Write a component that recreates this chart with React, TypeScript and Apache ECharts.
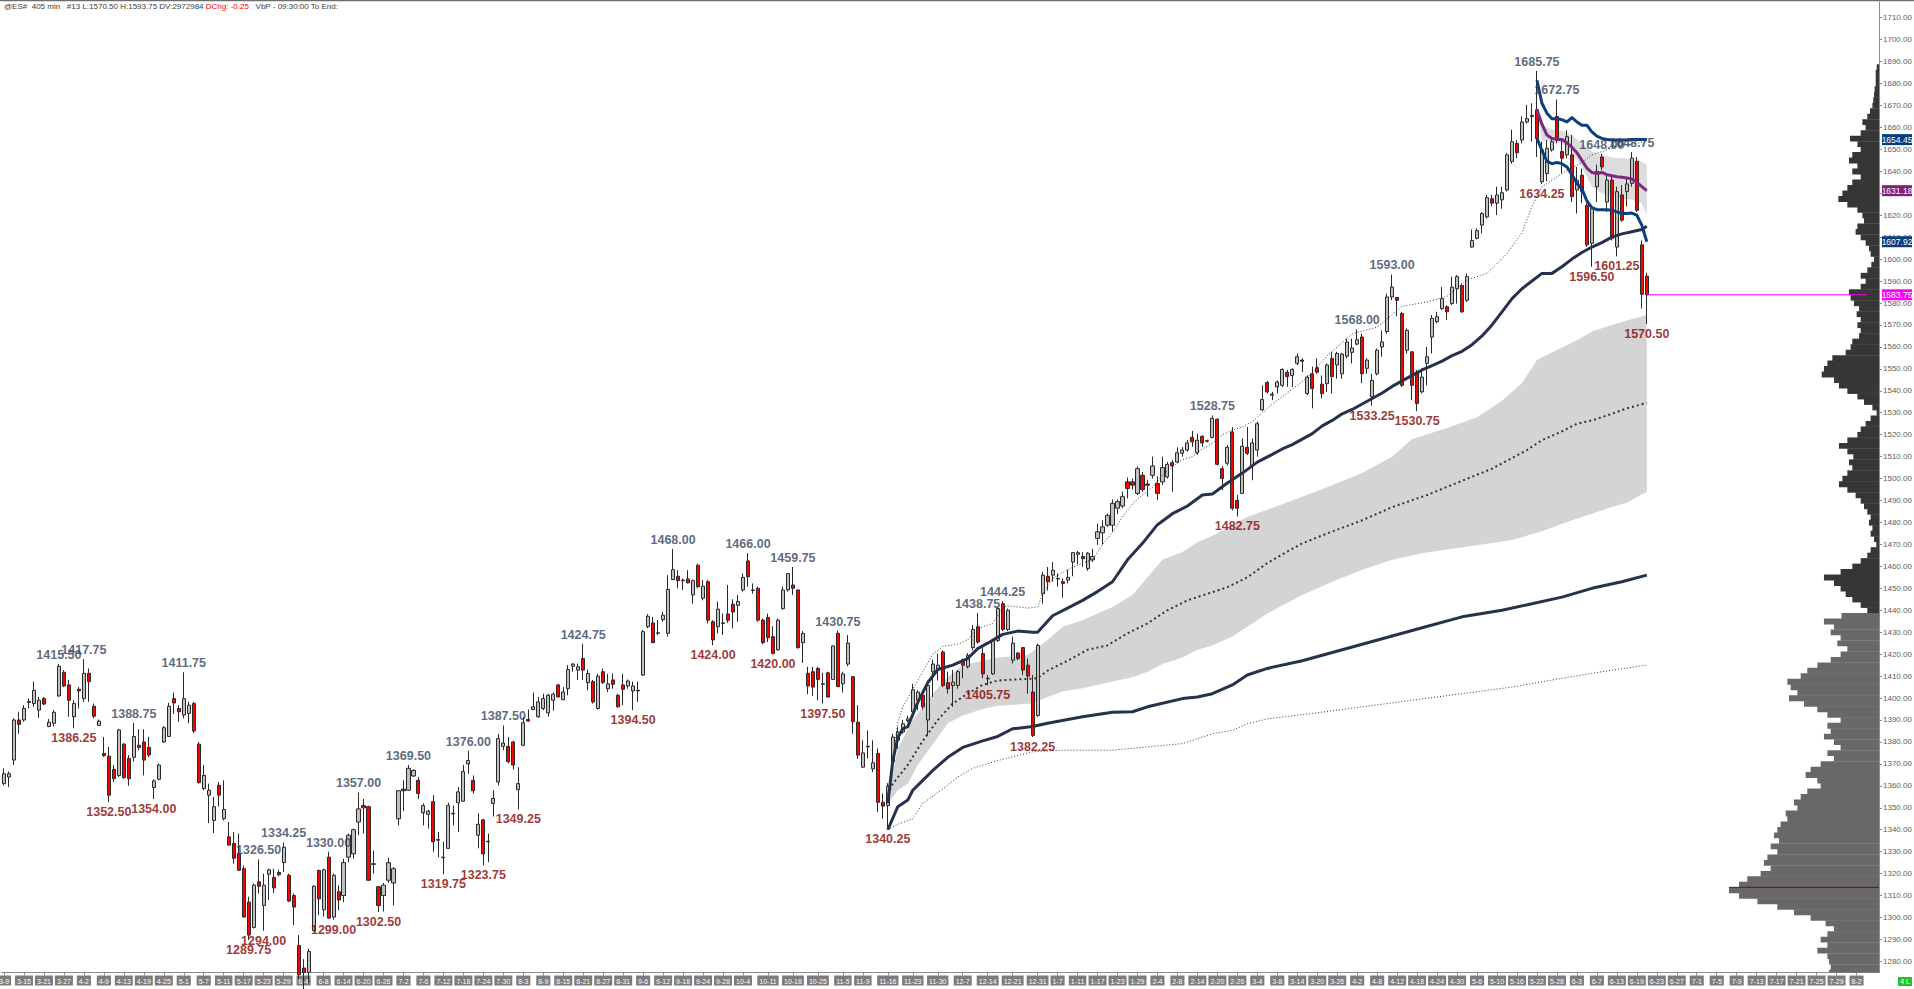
import React, { useEffect, useRef } from "react";
import * as echarts from "echarts";

// ---------------- calendar / categories ----------------
const firstBarDate = "2012-03-09";
const lastBarDate = "2013-06-21";
const axisEndDate = "2013-08-06";
const exchangeClosedDays = ["2012-04-06", "2012-10-29", "2012-10-30", "2012-12-25", "2013-01-01", "2013-03-29"];

const dateTicks = [
  "2012-03-09", "2012-03-15", "2012-03-21", "2012-03-27", "2012-04-02", "2012-04-09", "2012-04-13", "2012-04-19", "2012-04-25",
  "2012-05-01", "2012-05-07", "2012-05-11", "2012-05-17", "2012-05-23", "2012-05-29", "2012-06-04", "2012-06-08", "2012-06-14",
  "2012-06-20", "2012-06-26", "2012-07-02", "2012-07-06", "2012-07-12", "2012-07-18", "2012-07-24", "2012-07-30", "2012-08-03",
  "2012-08-09", "2012-08-15", "2012-08-21", "2012-08-27", "2012-08-31", "2012-09-06", "2012-09-12", "2012-09-18", "2012-09-24",
  "2012-09-28", "2012-10-04", "2012-10-11", "2012-10-18", "2012-10-25", "2012-11-05", "2012-11-09", "2012-11-16", "2012-11-23",
  "2012-11-30", "2012-12-07", "2012-12-14", "2012-12-21", "2012-12-31", "2013-01-07", "2013-01-11", "2013-01-17", "2013-01-23",
  "2013-01-29", "2013-02-04", "2013-02-08", "2013-02-14", "2013-02-20", "2013-02-26", "2013-03-04", "2013-03-08", "2013-03-14",
  "2013-03-20", "2013-03-26", "2013-04-02", "2013-04-08", "2013-04-12", "2013-04-18", "2013-04-24", "2013-04-30", "2013-05-06",
  "2013-05-10", "2013-05-16", "2013-05-22", "2013-05-28", "2013-06-03", "2013-06-07", "2013-06-13", "2013-06-19", "2013-06-23",
  "2013-06-27", "2013-07-01", "2013-07-05", "2013-07-09", "2013-07-13", "2013-07-17", "2013-07-21", "2013-07-25", "2013-07-29",
  "2013-08-02",
];

const priceTicks = [
  1280, 1290, 1300, 1310, 1320, 1330, 1340, 1350, 1360, 1370, 1380, 1390, 1400, 1410, 1420, 1430, 1440, 1450, 1460, 1470,
  1480, 1490, 1500, 1510, 1520, 1530, 1540, 1550, 1560, 1570, 1580, 1590, 1600, 1610, 1620, 1630, 1640, 1650, 1660, 1670,
  1680, 1690, 1700, 1710,
];

function buildCategories(): string[] {
  const out: string[] = [];
  const d = new Date(firstBarDate + "T00:00:00Z");
  const lastBar = new Date(lastBarDate + "T00:00:00Z").getTime();
  const end = new Date(axisEndDate + "T00:00:00Z").getTime();
  while (d.getTime() <= end) {
    const iso = d.toISOString().slice(0, 10);
    const wd = d.getUTCDay();
    if (d.getTime() <= lastBar) {
      if (wd !== 0 && wd !== 6 && !exchangeClosedDays.includes(iso)) out.push(iso);
    } else {
      out.push(iso);
    }
    d.setUTCDate(d.getUTCDate() + 1);
  }
  return out;
}

// ---------------- daily bars: [open, high, low, close] ----------------
const ohlc: [number, number, number, number][] = [
  // 0
  [1361, 1368, 1360.25, 1365.5], [1364, 1366.5, 1359.5, 1365.5], [1371.75, 1390.75, 1369.5, 1390], [1390, 1393.75, 1383.75, 1388],
  [1390, 1396.75, 1389.25, 1395.25], [1398, 1399.75, 1395.25, 1398.5], [1397.5, 1407.5, 1396, 1403.5], [1394.5, 1400.5, 1391, 1399],
  [1399.75, 1400.5, 1396.75, 1397.25], [1387, 1390.5, 1386.75, 1389],
  // 10
  [1388.5, 1394.5, 1387, 1393.5], [1401, 1415.5, 1400.5, 1414.5], [1411.75, 1412.75, 1405, 1405.5], [1406, 1408.25, 1391.5, 1399],
  [1391.5, 1399, 1386.25, 1397.5], [1404, 1405, 1395.25, 1403.25], [1399.75, 1417.75, 1398.25, 1411.25], [1411.25, 1413.5, 1398.25, 1407.5],
  [1396.25, 1397.5, 1390.75, 1391.75], [1387.5, 1390.25, 1387.25, 1389.5],
  // 20
  [1374.75, 1382.25, 1373.25, 1373.75], [1373.5, 1377.75, 1352.5, 1355.75], [1367.5, 1369.5, 1361.75, 1363.25], [1364.75, 1386, 1364, 1385.5],
  [1379, 1379.5, 1363.25, 1363.75], [1372.5, 1374, 1360, 1363.25], [1373, 1388.75, 1371, 1382.5], [1378.5, 1385.75, 1376.25, 1377.5],
  [1380, 1385.75, 1364.75, 1371.75], [1377.5, 1382.25, 1373, 1374],
  // 30
  [1359.25, 1363, 1354, 1362.25], [1363, 1370.25, 1362.5, 1369.5], [1380, 1387.25, 1379.5, 1386.5], [1382.5, 1397.75, 1382.25, 1396.25],
  [1399.75, 1402.5, 1392.75, 1397.75], [1395.25, 1396.75, 1389.25, 1393.75], [1392.25, 1411.75, 1390.75, 1399.75], [1393, 1398.25, 1388.5, 1396.75],
  [1397.5, 1398.25, 1384, 1385], [1379, 1380, 1361, 1361.5],
  // 40
  [1358.75, 1369.5, 1358, 1364.75], [1355.75, 1361, 1343, 1358], [1344.25, 1355, 1338.5, 1350.5], [1360.25, 1361.75, 1350.5, 1355.75],
  [1345, 1362.5, 1344.25, 1349.25], [1336.75, 1343.5, 1332.75, 1333], [1333.75, 1339, 1324.5, 1327], [1329, 1338.25, 1321.25, 1321.5],
  [1322.25, 1323.75, 1300, 1300.25], [1307, 1309.5, 1289.75, 1292],
  // 50
  [1295.5, 1315.5, 1295, 1314.75], [1316.25, 1326.5, 1311, 1314.25], [1305.5, 1320, 1294, 1314.75], [1319.75, 1322.25, 1308, 1321.75],
  [1318.25, 1322.25, 1311.25, 1313.5], [1320.5, 1321.75, 1318.75, 1319.5], [1325, 1334.25, 1320.75, 1332], [1319.25, 1320, 1307, 1307.5],
  [1310, 1311, 1296.5, 1304.75], [1287.25, 1292, 1272, 1274],
  // 60
  [1277, 1281, 1266, 1275], [1275, 1285.75, 1270, 1284.5], [1294, 1314.75, 1293.75, 1314.25], [1321.5, 1321.75, 1301, 1308.5],
  [1303.5, 1322.25, 1300.5, 1321.75], [1327.5, 1330, 1299.5, 1299.75], [1300.25, 1320, 1299, 1319.25], [1311.75, 1314.75, 1303.25, 1308],
  [1310, 1326.75, 1307, 1325], [1327.5, 1338.25, 1325.25, 1337.5],
  // 70
  [1329, 1340.5, 1326.75, 1340], [1343.5, 1357, 1337.5, 1349.5], [1351, 1354, 1338.25, 1350], [1350.5, 1351, 1316.75, 1317],
  [1324.25, 1330.5, 1320, 1324.5], [1314, 1314.25, 1302.5, 1305.5], [1310, 1315.75, 1302.75, 1314.75], [1317, 1327.25, 1315.75, 1325],
  [1315.75, 1323, 1305.5, 1322.25], [1345, 1358, 1342, 1357.75],
  // 80
  [1358.5, 1362.5, 1348.5, 1357.75], [1358, 1369.5, 1357.75, 1368], [1364.5, 1367.5, 1364, 1367], [1362.5, 1364, 1354, 1356.5],
  [1347.75, 1352, 1342, 1351], [1347, 1349, 1340.5, 1348.5], [1352.75, 1355.75, 1330, 1334.5], [1335.5, 1339, 1327.5, 1335.25],
  [1327.25, 1334.5, 1319.75, 1327.5], [1331.5, 1352.25, 1331.25, 1351],
  // 90
  [1347.5, 1351, 1342, 1347.25], [1352.25, 1359.5, 1339, 1357.25], [1353, 1369.5, 1352.75, 1366.5], [1370, 1376, 1365.5, 1371.5],
  [1362.5, 1364.75, 1356.5, 1357.75], [1337.5, 1347.5, 1331.5, 1342.5], [1344.5, 1345, 1323.75, 1329], [1334.75, 1338.25, 1325.25, 1334.5],
  [1352, 1358, 1346, 1354.25], [1361.75, 1383.75, 1360.25, 1381.5],
  // 100
  [1378, 1387.5, 1376.25, 1379.5], [1378, 1382.25, 1370.25, 1371], [1380, 1380.5, 1367.5, 1369.5], [1358.25, 1368.5, 1349.25, 1361],
  [1378.5, 1391.5, 1378, 1388.75], [1390.25, 1394.75, 1389.25, 1389.5], [1394.75, 1402.5, 1394.5, 1396], [1391.5, 1400.5, 1391, 1398.25],
  [1395.25, 1402, 1394.5, 1399.75], [1393.25, 1402, 1391.5, 1401.25],
  // 110
  [1399, 1402.5, 1394.25, 1401.75], [1406, 1406.5, 1400.25, 1400.5], [1399.25, 1405, 1399, 1402.75], [1404.25, 1415, 1401.25, 1413],
  [1414.5, 1416, 1412, 1415.5], [1412.75, 1415.75, 1408.25, 1414.25], [1418, 1424.75, 1408.25, 1412.75], [1407, 1413, 1403.5, 1411.25],
  [1407.5, 1408.25, 1397.5, 1398.25], [1395.25, 1411, 1394.75, 1410],
  // 120
  [1412, 1413.5, 1406.5, 1407], [1404.25, 1411, 1402.75, 1406.5], [1408.25, 1411.25, 1404.25, 1406.25], [1401.25, 1402, 1395.75, 1396],
  [1406, 1411, 1396.75, 1404], [1405.5, 1408.5, 1404.25, 1407.75], [1403.25, 1407.5, 1394.5, 1405.5], [1403.5, 1407.5, 1398.25, 1403.25],
  [1410.5, 1431, 1410, 1430.25], [1432.5, 1438.25, 1431.75, 1437.25],
  // 130
  [1434.25, 1437, 1425, 1425.25], [1429.5, 1435.5, 1428.75, 1429.75], [1435.75, 1439.25, 1434.75, 1437.75], [1429.5, 1456, 1428, 1449.5],
  [1454, 1468, 1453.75, 1458.5], [1455.5, 1458.25, 1450, 1453.5], [1453.5, 1454.5, 1449.25, 1453.75], [1454.25, 1458.25, 1452.25, 1452.5],
  [1447, 1454, 1443, 1453.5], [1460.5, 1461.25, 1450, 1450.75],
  // 140
  [1445.5, 1453.75, 1444.5, 1451], [1453, 1453.75, 1434, 1435.5], [1434.75, 1435.5, 1424, 1426.5], [1432.5, 1444, 1429.5, 1440.5],
  [1434.25, 1438.5, 1428.75, 1434], [1438.25, 1451.5, 1434.25, 1435.5], [1442.75, 1445, 1431.75, 1439.25], [1442.25, 1447, 1434.75, 1444],
  [1449.25, 1456.75, 1448.5, 1455], [1462.5, 1466, 1450.75, 1455.25],
  // 150
  [1449.25, 1452.25, 1447.5, 1449], [1450, 1450.75, 1434.75, 1435.5], [1435.5, 1436.25, 1424.5, 1425.25], [1436.75, 1438.5, 1425.5, 1427.5],
  [1428, 1432.75, 1420, 1420.25], [1422, 1436.25, 1421.5, 1435.5], [1440.75, 1450.75, 1440.25, 1449.25], [1449.25, 1457, 1448.5, 1456.75],
  [1451.5, 1459.75, 1447, 1450], [1449.25, 1449.5, 1422.5, 1423],
  // 160
  [1425.25, 1430.5, 1416, 1429.5], [1411.25, 1414.25, 1401.75, 1405.5], [1412, 1414.25, 1401, 1405], [1413.5, 1414.25, 1399, 1408.5],
  [1406.25, 1411.5, 1397.5, 1406.5], [1411.5, 1412, 1400.25, 1400.5], [1408.5, 1424, 1408.25, 1423.75], [1429.5, 1430.75, 1405, 1405.25],
  [1406.5, 1412, 1402.5, 1411], [1415.5, 1428.75, 1414.5, 1425],
  // 170
  [1409.75, 1410, 1383.75, 1389.25], [1389, 1396.75, 1372.25, 1374], [1368.5, 1380.75, 1368.25, 1375], [1378, 1385.25, 1372.5, 1377.75],
  [1367.75, 1380.75, 1366.25, 1370.5], [1374.75, 1377, 1348, 1352.5], [1352.5, 1356.5, 1345, 1350.75], [1351, 1361.25, 1340.25, 1359.75],
  [1371, 1383.75, 1370, 1382.25], [1380.75, 1386.75, 1377, 1384.5],
  // 180
  [1384.5, 1390, 1383.75, 1388.25], [1389.75, 1392, 1389, 1390.5], [1393.75, 1406.5, 1393.25, 1403.75], [1399, 1403.5, 1394.5, 1402.75],
  [1401.25, 1402, 1394.75, 1396], [1390, 1408, 1383, 1405.75], [1412, 1417.5, 1400.5, 1415.5], [1413.5, 1420.25, 1408, 1415],
  [1421, 1421.75, 1405, 1405.75], [1407, 1412, 1402, 1404.25],
  // 190
  [1405.75, 1412.75, 1396, 1407.25], [1405.75, 1412.75, 1404.25, 1412], [1417.5, 1418, 1409, 1415], [1414.25, 1420.5, 1413.5, 1419.5],
  [1423, 1433.25, 1421.75, 1431.25], [1432.5, 1438.75, 1424.75, 1425.5], [1420.25, 1424, 1409, 1411], [1409, 1410.5, 1405.75, 1408.75],
  [1411, 1427, 1410.5, 1426.5], [1426.25, 1441.5, 1425.5, 1440.75],
  // 200
  [1443, 1444.25, 1430.5, 1431.25], [1431.25, 1440.75, 1430.5, 1440], [1417.25, 1428, 1415.75, 1425], [1420.5, 1421, 1417.25, 1418],
  [1423, 1423.25, 1410.5, 1412.75], [1415, 1418, 1402, 1410], [1402.75, 1410.5, 1382.25, 1383], [1392, 1424.75, 1391.5, 1424],
  [1447.5, 1457.5, 1443, 1456], [1455.5, 1459.75, 1449, 1453],
  // 210
  [1456, 1462, 1453, 1458.25], [1454.25, 1456.75, 1450.75, 1454.5], [1453, 1454.5, 1445.75, 1452.25], [1453.75, 1458.5, 1452.25, 1455],
  [1462, 1466.5, 1455.5, 1466.25], [1465.5, 1467, 1461, 1466.25], [1464.5, 1466.5, 1459.75, 1463.5], [1459, 1466.5, 1458, 1466],
  [1463, 1468, 1462, 1464.5], [1472.75, 1479.5, 1469.75, 1475.75],
  // 220
  [1475.25, 1481, 1470, 1478], [1478.75, 1484, 1478, 1483.25], [1478.75, 1490.5, 1475.75, 1488.75], [1486.5, 1490.5, 1483.75, 1489.5],
  [1487.5, 1494, 1486.5, 1491.75], [1498.5, 1500.5, 1491, 1495.5], [1498.5, 1500, 1495, 1497], [1493.25, 1505.5, 1492.5, 1504.5],
  [1501.5, 1503, 1494, 1495], [1497.5, 1499.25, 1491.75, 1497],
  // 230
  [1501.5, 1510, 1500, 1505.75], [1497.75, 1501, 1490.25, 1493.25], [1498.5, 1510, 1497, 1505], [1500.75, 1507.5, 1500, 1506.5],
  [1507.25, 1508.5, 1494, 1505.75], [1507.5, 1514.25, 1507, 1511.75], [1511.5, 1514.5, 1510, 1513], [1513, 1517.5, 1512.25, 1516.25],
  [1518.75, 1521.75, 1514.5, 1516.75], [1511.75, 1520.5, 1510.75, 1517.5],
  // 240
  [1519.25, 1519.75, 1514.5, 1516.25], [1517.25, 1517.75, 1516.5, 1517], [1518.75, 1528.75, 1518.25, 1527.5], [1527, 1527.5, 1506, 1506.5],
  [1504.5, 1505.75, 1494.75, 1500], [1507, 1515.25, 1506, 1514.25], [1521.25, 1523.5, 1485.5, 1486.5], [1490, 1492.5, 1482.75, 1486.5],
  [1493.25, 1518.25, 1493, 1514.75], [1514.25, 1523.5, 1510.75, 1511.5],
  // 250
  [1506, 1518.25, 1499.25, 1516.25], [1513, 1526, 1510, 1525], [1531.25, 1542.5, 1531, 1536], [1543.75, 1544.5, 1538.75, 1539.5],
  [1538, 1539.5, 1535.75, 1538.5], [1541.75, 1544.75, 1538.75, 1544], [1542.5, 1550.25, 1541.75, 1549.75], [1548.5, 1549.5, 1541.75, 1546.5],
  [1547, 1550.25, 1541.75, 1549.75], [1552.5, 1557, 1551.75, 1555.5],
  // 260
  [1554, 1554.75, 1548.5, 1553.5], [1538.75, 1547, 1538, 1546.25], [1547.75, 1551, 1532, 1541], [1550.5, 1554.75, 1547.75, 1548.5],
  [1543, 1547, 1536.5, 1538.75], [1543.25, 1552.5, 1539.5, 1551.75], [1554.75, 1557.75, 1538.75, 1546.5], [1551.75, 1557.75, 1545.5, 1557],
  [1547.75, 1557.25, 1545.5, 1556.75], [1555.75, 1563.75, 1554.75, 1562.25],
  // 270
  [1557.5, 1563.75, 1552.5, 1559.5], [1561.25, 1568, 1560.75, 1563.25], [1564.5, 1566, 1543.5, 1547.75], [1550.25, 1554.75, 1547.75, 1554],
  [1537.25, 1547.75, 1533.25, 1544.75], [1547.75, 1559.25, 1547, 1558.5], [1560, 1567.5, 1555.5, 1562.25], [1567, 1584.25, 1566, 1582.75],
  [1582.75, 1593, 1581.25, 1587.25], [1582.5, 1582.75, 1574, 1581.25],
  // 280
  [1575.25, 1576, 1541.75, 1542.5], [1558.5, 1568.5, 1557, 1567.5], [1557.75, 1558, 1535.75, 1542.5], [1548.5, 1549.5, 1530.75, 1534.25],
  [1539.5, 1550.25, 1538.75, 1546.25], [1552.5, 1560, 1542.5, 1555.5], [1564.5, 1574.5, 1557, 1573], [1571.5, 1576, 1570.75, 1573.75],
  [1577.5, 1587.25, 1576.75, 1582], [1578.25, 1579, 1572.25, 1576],
  // 290
  [1579.75, 1592, 1579, 1587.25], [1586.5, 1592.75, 1579.75, 1592], [1588, 1589, 1575.5, 1576], [1581.25, 1593.5, 1580.5, 1592],
  [1605.5, 1613.5, 1605.25, 1608.5], [1609.5, 1614, 1609, 1613], [1615.5, 1621.5, 1611.75, 1620.75], [1619.25, 1629.25, 1618.5, 1628],
  [1627.5, 1629.25, 1624, 1625.5], [1625.5, 1633, 1620, 1629.25],
  // 300
  [1627, 1633, 1623, 1630.25], [1631.5, 1648.25, 1630.75, 1647.5], [1644.5, 1659, 1643.5, 1653.5], [1652.75, 1654.25, 1646, 1648.5],
  [1654.25, 1665, 1652.75, 1662.5], [1662.5, 1670.25, 1661.75, 1664], [1665, 1671, 1653.5, 1665.5], [1668, 1685.75, 1646.5, 1655],
  [1635.25, 1653.5, 1634.25, 1649.75], [1639, 1654.25, 1635.5, 1650.5],
  // 310
  [1649.75, 1655, 1649, 1653.5], [1665, 1672.75, 1652.75, 1655], [1649, 1654.25, 1639, 1646], [1647.5, 1658.75, 1646, 1655.75],
  [1647.5, 1656.5, 1626, 1628.5], [1631.5, 1642, 1620.75, 1636], [1638.25, 1641.25, 1625.5, 1630.75], [1624.5, 1625.5, 1605.5, 1606.5],
  [1607.25, 1624, 1596.5, 1623], [1633, 1643, 1626, 1640],
  // 320
  [1646.5, 1648, 1640.5, 1642], [1626, 1638.25, 1621.5, 1636], [1636, 1637.5, 1608.5, 1609.5], [1605.5, 1633, 1601.25, 1630.75],
  [1629.25, 1633.75, 1617, 1617.75], [1630.75, 1637.5, 1624, 1634.25], [1634.5, 1648.75, 1633, 1646], [1644.5, 1646.5, 1621.5, 1622.25],
  [1606.5, 1608.5, 1577.5, 1584], [1592.25, 1593.75, 1570.5, 1583.75],
];

// swing labels [bar index, price]
const swingHighs: [number, number][] = [
  [11, 1415.5], [16, 1417.75], [26, 1388.75], [36, 1411.75], [51, 1326.5], [56, 1334.25], [65, 1330], [71, 1357], [81, 1369.5],
  [93, 1376], [100, 1387.5], [116, 1424.75], [134, 1468], [149, 1466], [158, 1459.75], [167, 1430.75], [195, 1438.75],
  [200, 1444.25], [242, 1528.75], [271, 1568], [278, 1593], [307, 1685.75], [311, 1672.75], [320, 1648], [326, 1648.75],
];
const swingLows: [number, number][] = [
  [14, 1386.25], [21, 1352.5], [30, 1354], [49, 1289.75], [52, 1294], [66, 1299], [75, 1302.5], [88, 1319.75], [96, 1323.75],
  [103, 1349.25], [126, 1394.5], [142, 1424], [154, 1420], [164, 1397.5], [177, 1340.25], [197, 1405.75], [206, 1382.25],
  [247, 1482.75], [274, 1533.25], [283, 1530.75], [308, 1634.25], [318, 1596.5], [323, 1601.25], [329, 1570.5],
];

// ---------------- VWAP anchored at 2012-11-16 low (read points) ----------------
const novCenter: [number, number][] = [
  [177, 1356], [178, 1361], [181, 1369.5], [184, 1380.5], [187, 1390], [190, 1397.5], [193, 1402], [196, 1406], [199, 1408],
  [203, 1408.5], [207, 1409], [209, 1412.5], [213, 1417], [217, 1422], [221, 1424], [225, 1429.5], [229, 1434], [233, 1440],
  [237, 1444.5], [241, 1447.5], [245, 1450.5], [249, 1455], [253, 1461.5], [256, 1465.5], [260, 1470.5], [265, 1475],
  [272, 1481], [278, 1487], [285, 1492.5], [292, 1499], [298, 1504.5], [305, 1513], [308, 1517.5], [312, 1521.5], [315, 1525],
  [318, 1526.5], [322, 1529.5], [325, 1532], [329, 1534.5],
];
const novPlus1: [number, number][] = [
  [177, 1356], [179, 1377], [182, 1390], [186, 1402], [189, 1409.5], [192, 1415], [196, 1417], [199, 1418.5], [205, 1419.5],
  [207, 1423], [209, 1426.5], [212, 1432.5], [216, 1435.5], [219, 1438.5], [222, 1441.5], [226, 1447], [229, 1455], [232, 1463],
  [236, 1466.5], [239, 1471], [242, 1474], [246, 1479], [249, 1482.5], [252, 1485], [255, 1487.5], [258, 1490], [265, 1496],
  [272, 1502.5], [278, 1510], [282, 1518], [289, 1523], [295, 1528], [300, 1535.5], [304, 1543.5], [307, 1554], [310, 1557.5],
  [315, 1563], [318, 1567], [322, 1570], [325, 1572], [329, 1574.5],
];
const novMinus1: [number, number][] = [
  [177, 1352], [179, 1358], [181, 1361], [183, 1369.5], [186, 1379], [189, 1388.5], [192, 1392], [196, 1395], [199, 1396.5],
  [206, 1397.5], [209, 1400.5], [212, 1403], [216, 1404.5], [219, 1406], [222, 1407.5], [226, 1409.5], [229, 1412], [232, 1415.5],
  [236, 1418.5], [239, 1422], [242, 1424], [246, 1428], [249, 1432.5], [253, 1438.5], [260, 1447], [266, 1453], [272, 1458.5],
  [278, 1463], [284, 1466], [290, 1468], [296, 1470], [302, 1472], [308, 1476], [314, 1481], [318, 1484], [322, 1487],
  [325, 1489], [329, 1494],
];
const novPlus2: [number, number][] = [
  [177, 1352], [178, 1371.5], [179, 1382], [180, 1386], [181, 1387], [183, 1398], [185, 1407], [187, 1413], [190, 1415],
  [193, 1418], [195, 1422.5], [197, 1425], [200, 1429], [203, 1430.5], [206, 1430], [207, 1430], [208, 1432.5], [210, 1437.5],
  [213, 1441], [216, 1444.5], [219, 1448.5], [222, 1453], [225, 1463], [228, 1470.5], [231, 1479], [234, 1484], [237, 1487.5],
  [240, 1492.5], [242, 1493], [245, 1498], [248, 1502.5], [251, 1507.5], [254, 1511], [256, 1513.5], [258, 1515.5], [260, 1518],
  [262, 1520.5], [264, 1524], [266, 1526.5], [268, 1529.5], [270, 1531.5], [272, 1534], [274, 1536.5], [276, 1539], [278, 1542],
  [280, 1544.5], [282, 1547], [284, 1549.5], [286, 1551.5], [288, 1553.5], [290, 1556], [292, 1558], [294, 1561], [296, 1565],
  [298, 1570], [300, 1576], [302, 1582], [304, 1586.5], [306, 1590], [308, 1593.5], [310, 1593.5], [312, 1596.5], [314, 1600],
  [316, 1603], [318, 1605.5], [320, 1607.5], [322, 1610], [324, 1611.5], [326, 1612.5], [328, 1613.5], [329, 1615],
];
const novMinus2: [number, number][] = [
  [177, 1340], [179, 1350.5], [181, 1353.5], [182, 1358], [184, 1362.5], [186, 1367], [189, 1373], [192, 1377.5], [196, 1380.5],
  [199, 1382.5], [202, 1386], [206, 1387], [209, 1388.5], [216, 1391.5], [222, 1393.5], [226, 1393.75], [229, 1396],
  [236, 1399.75], [239, 1400.5], [242, 1402], [246, 1406], [249, 1410.5], [253, 1413.5], [260, 1417], [268, 1422], [276, 1427],
  [284, 1432], [292, 1437], [300, 1440], [306, 1443], [312, 1446], [318, 1450], [324, 1453], [329, 1456],
];
const novPlus3: [number, number][] = [
  [177, 1356], [179, 1389], [180, 1396], [182, 1404], [184, 1412], [186, 1420], [188, 1423.5], [191, 1424.5], [193, 1426.5],
  [194, 1429.5], [196, 1432.5], [198, 1434], [200, 1441], [201, 1442], [205, 1441], [207, 1441.5], [208, 1447.5], [210, 1454.5],
  [213, 1458.5], [216, 1461.5], [218, 1463], [220, 1470], [222, 1475.5], [224, 1482.5], [226, 1488.5], [228, 1492.5], [230, 1496],
  [232, 1501.5], [234, 1505.5], [236, 1508.5], [238, 1510], [240, 1513.5], [242, 1516], [244, 1520], [246, 1522], [248, 1523.5],
  [250, 1526], [252, 1530], [254, 1534], [257, 1539], [261, 1546], [265, 1556], [270, 1566], [275, 1569], [280, 1578.5],
  [285, 1580.5], [289, 1583], [293, 1590.5], [297, 1593.5], [301, 1602.5], [304, 1612], [306, 1624], [308, 1633], [312, 1639],
  [316, 1644], [318, 1647.5], [322, 1650.5], [325, 1652], [329, 1653.5],
];
const novMinus3: [number, number][] = [
  [177, 1340], [179, 1342.5], [182, 1345], [184, 1352], [188, 1358.5], [191, 1364], [194, 1368], [199, 1371.5], [206, 1375.5],
  [212, 1376.25], [222, 1376.25], [229, 1377.75], [236, 1379.25], [242, 1383.75], [246, 1385.25], [249, 1388.25], [253, 1390.5],
  [262, 1393], [272, 1396], [282, 1399], [292, 1402], [302, 1405], [312, 1409], [320, 1412], [329, 1415],
];

// ---------------- VWAP anchored at 2013-05-22 high ----------------
const mayCenter: [number, number][] = [
  [307, 1668], [308, 1661.5], [309, 1656.5], [310, 1655], [311, 1654.5], [312, 1654.5], [313, 1653], [314, 1651], [315, 1648.5],
  [316, 1645], [317, 1641.5], [318, 1639.5], [319, 1639], [320, 1639.5], [321, 1638.5], [322, 1638], [323, 1637.5], [324, 1637.25],
  [325, 1637], [326, 1636.5], [327, 1635], [328, 1633], [329, 1631.18],
];
const mayUpper: [number, number][] = [
  [307, 1681.5], [308, 1671], [309, 1666.5], [310, 1664], [311, 1664], [312, 1663.5], [313, 1662.5], [314, 1664.5], [315, 1662.5],
  [316, 1661], [317, 1661], [318, 1658], [319, 1656], [320, 1655], [321, 1654.5], [322, 1654.25], [323, 1654.25], [324, 1654.25],
  [325, 1654.25], [326, 1654.5], [327, 1654.5], [328, 1654.45], [329, 1654.45],
];
const mayLower: [number, number][] = [
  [307, 1655], [308, 1649.5], [309, 1644.5], [310, 1643.5], [311, 1644], [312, 1643.5], [313, 1642], [314, 1638.5], [315, 1634.5],
  [316, 1632], [317, 1626.5], [318, 1623.5], [319, 1622.5], [320, 1622.5], [321, 1622.5], [322, 1622.3], [323, 1621.5],
  [324, 1620.8], [325, 1620.8], [326, 1621], [327, 1620], [328, 1615.5], [329, 1607.92],
];
const mayBandUpper: [number, number][] = [
  [307, 1668], [308, 1661], [310, 1659], [312, 1658.5], [314, 1656.5], [316, 1652.7], [318, 1649], [320, 1647.4], [322, 1646.3],
  [324, 1646], [326, 1645.5], [328, 1644.4], [329, 1643],
];
const mayBandLower: [number, number][] = [
  [307, 1668], [308, 1654], [310, 1653.5], [312, 1652.7], [314, 1648.2], [316, 1642.1], [318, 1633], [320, 1629.9], [322, 1629.2],
  [324, 1627.6], [326, 1627], [328, 1625.4], [329, 1620],
];

// ---------------- volume by price (relative to POC = 100), [price, volume] ----------------
const volumeProfile: [number, number][] = [
  [1687.5, 1.5], [1685, 2.2], [1682.5, 2.2], [1680, 2.2], [1677.5, 2.9], [1675, 3.3], [1672.5, 3.8], [1670, 4.4], [1667.5, 6],
  [1665, 7.8], [1662.5, 11.1], [1660, 8.9], [1657.5, 12.2], [1655, 19.3], [1652.5, 14.4], [1650, 12.2], [1647.5, 17.8], [1645, 20],
  [1642.5, 14.4], [1640, 17.8], [1637.5, 12.2], [1635, 17.8], [1632.5, 21.1], [1630, 24.4], [1627.5, 27.1], [1625, 21.1],
  [1622.5, 14.4], [1620, 11.1], [1617.5, 10], [1615, 14.4], [1612.5, 15.6], [1610, 12.2], [1607.5, 8.9], [1605, 6.7], [1602.5, 5.6],
  [1600, 3.3], [1597.5, 5.1], [1595, 7.8], [1592.5, 12.2], [1590, 8.9], [1587.5, 12.2], [1585, 20], [1582.5, 18.9], [1580, 16.7],
  [1577.5, 13.3], [1575, 14.9], [1572.5, 12.2], [1570, 14.4], [1567.5, 12.2], [1565, 13.3], [1562.5, 17.8], [1560, 18.9],
  [1557.5, 22.2], [1555, 31.1], [1552.5, 34.4], [1550, 36.7], [1547.5, 38.2], [1545, 30], [1542.5, 26.7], [1540, 21.1],
  [1537.5, 14.4], [1535, 10], [1532.5, 4.4], [1530, 1.6], [1527.5, 5.6], [1525, 8.9], [1522.5, 12.2], [1520, 14.4], [1517.5, 21.1],
  [1515, 26.7], [1512.5, 21.1], [1510, 17.1], [1507.5, 20], [1505, 17.8], [1502.5, 21.1], [1500, 24.4], [1497.5, 26.7],
  [1495, 21.1], [1492.5, 15.6], [1490, 12.2], [1487.5, 10], [1485, 7.8], [1482.5, 5.6], [1480, 6.7], [1477.5, 4.4], [1475, 5.6],
  [1472.5, 3.3], [1470, 1.8], [1467.5, 5.6], [1465, 7.8], [1462.5, 12.2], [1460, 17.8], [1457.5, 25.6], [1455, 36.7],
  [1452.5, 30], [1450, 25.6], [1447.5, 22.2], [1445, 17.8], [1442.5, 12.2], [1440, 7.8], [1437.5, 25], [1435, 36.7],
  [1432.5, 30], [1430, 32.2], [1427.5, 25.6], [1425, 27.8], [1422.5, 21.1], [1420, 25.6], [1417.5, 32.2], [1415, 41.1],
  [1412.5, 47.8], [1410, 52.2], [1407.5, 61.1], [1405, 58.9], [1402.5, 54.4], [1400, 60], [1397.5, 50], [1395, 41.1],
  [1392.5, 34.4], [1390, 25.6], [1387.5, 34.4], [1385, 32.2], [1382.5, 36.7], [1380, 30], [1377.5, 25.6], [1375, 34.4],
  [1372.5, 30], [1370, 38.9], [1367.5, 45.6], [1365, 48.9], [1362.5, 41.1], [1360, 38.9], [1357.5, 47.8], [1355, 52.2],
  [1352.5, 56.7], [1350, 54.4], [1347.5, 62.2], [1345, 61.1], [1342.5, 65.6], [1340, 67.8], [1337.5, 70], [1335, 66.7],
  [1332.5, 72.2], [1330, 67.8], [1327.5, 74.4], [1325, 76.7], [1322.5, 72.2], [1320, 78.9], [1317.5, 87.8], [1315, 93.3],
  [1312.5, 100], [1310, 93.3], [1307.5, 81.1], [1305, 67.8], [1302.5, 56.7], [1300, 45.6], [1297.5, 35.6], [1295, 30],
  [1292.5, 34.4], [1290, 38.9], [1287.5, 34.4], [1285, 41.1], [1282.5, 34.4], [1280, 33.3], [1277.5, 32.2], [1275, 33.3],
  [1272.5, 30],
];
const profilePOC = 1313.75;
const valueAreaTop = 1440;

const headerText = {
  symbol: "@ES#",
  period: "405 min",
  info: "#13 L:1570.50 H:1593.75 DV:2972984",
  change: "DChg: -0.25",
  vbp: "VbP - 09:30:00 To End:",
};

// ---------------- layout / style constants ----------------
const W = 1914;
const H = 989;
const GRID = { left: 1.5, right: 35, top: 2, bottom: 16.5 };
const Y_MIN = 1274.95;
const Y_MAX = 1717.15;
const PROFILE_MAX_PX = 150;
const FONT = "'Liberation Sans', Arial, sans-serif";

export default function App() {
  const ref = useRef<HTMLDivElement>(null);

  useEffect(() => {
    document.body.style.margin = "0";
    document.body.style.overflow = "hidden";
    if (!ref.current) return;
    const chart = echarts.init(ref.current, undefined, { renderer: "svg", width: W, height: H });

    const categories = buildCategories();
    const tickIdx = new Set(dateTicks.map((d) => categories.indexOf(d)).filter((i) => i >= 0));
    const gridWidth = W - GRID.left - GRID.right;
    const profileAxisMax = (100 * gridWidth) / PROFILE_MAX_PX;
    const lastIdx = ohlc.length - 1;
    const lastClose = ohlc[lastIdx][3];
    const magentaEnd = categories.length - 3;

    const fmtDate = (v: string) => `${+v.slice(5, 7)}-${+v.slice(8, 10)}`;

    const line = (data: [number, number][], color: string, width: number, type: any, z = 4) => ({
      type: "line",
      data,
      symbol: "none",
      silent: true,
      z,
      lineStyle: { color, width, type, cap: "butt", join: "round" },
      xAxisIndex: 0,
      yAxisIndex: 0,
    });

    const band = (upper: [number, number][], lower: [number, number][], color: string) => ({
      type: "custom",
      xAxisIndex: 0,
      yAxisIndex: 0,
      silent: true,
      z: 1,
      clip: true,
      data: [[upper[0][0], upper[0][1]]],
      encode: { x: 0, y: 1 },
      renderItem: (_p: any, api: any) => {
        const pts = [
          ...upper.map(([i, v]) => api.coord([i, v])),
          ...lower
            .slice()
            .reverse()
            .map(([i, v]) => api.coord([i, v])),
        ];
        return { type: "polygon", shape: { points: pts }, style: { fill: color } };
      },
    });

    const option: any = {
      animation: false,
      backgroundColor: "#ffffff",
      grid: { ...GRID, containLabel: false, outerBoundsMode: "none" },
      xAxis: [
        {
          type: "category",
          data: categories,
          boundaryGap: true,
          axisLine: { show: true, lineStyle: { color: "#8c8c8c", width: 1 } },
          axisTick: {
            show: true,
            alignWithLabel: true,
            interval: (i: number) => tickIdx.has(i),
            length: 3,
            lineStyle: { color: "#8c8c8c" },
          },
          axisLabel: {
            interval: (i: number) => tickIdx.has(i),
            formatter: fmtDate,
            fontSize: 7,
            fontFamily: FONT,
            color: "#ffffff",
            backgroundColor: "#7c7c7c",
            padding: [2, 2, 1, 2],
            margin: 3,
          },
          splitLine: { show: false },
        },
        {
          type: "value",
          min: 0,
          max: profileAxisMax,
          inverse: true,
          show: false,
          position: "top",
        },
      ],
      yAxis: [
        {
          type: "value",
          position: "right",
          min: Y_MIN,
          max: Y_MAX,
          axisLine: { show: true, lineStyle: { color: "#8c8c8c" } },
          axisTick: { show: true, length: 3, customValues: priceTicks, lineStyle: { color: "#8c8c8c" } },
          axisLabel: {
            customValues: priceTicks,
            formatter: (v: number) => v.toFixed(2),
            fontSize: 8,
            fontFamily: FONT,
            color: "#606060",
            margin: 4,
          },
          splitLine: { show: false },
        },
      ],
      series: [
        band(novPlus1, novMinus1, "#d4d4d4"),
        band(mayBandUpper, mayBandLower, "#dcdcdc"),
        {
          type: "custom",
          xAxisIndex: 1,
          yAxisIndex: 0,
          silent: true,
          z: 2,
          clip: true,
          encode: { x: 0, y: 1 },
          data: volumeProfile.map(([p, v]) => [v, p]),
          renderItem: (_p: any, api: any) => {
            const v = api.value(0) as number;
            const p = api.value(1) as number;
            const a = api.coord([v, p + 1.25]);
            const b = api.coord([0, p - 1.25]);
            return {
              type: "rect",
              shape: { x: a[0], y: a[1], width: b[0] - a[0], height: b[1] - a[1] + 0.4 },
              style: { fill: p >= valueAreaTop ? "#363636" : "#686868" },
            };
          },
        },
        {
          type: "line",
          xAxisIndex: 1,
          yAxisIndex: 0,
          data: [
            [100, profilePOC],
            [0, profilePOC],
          ],
          symbol: "none",
          silent: true,
          z: 3,
          lineStyle: { color: "#8b0000", width: 1 },
        },
        {
          type: "candlestick",
          xAxisIndex: 0,
          yAxisIndex: 0,
          z: 3,
          silent: true,
          barWidth: 3.6,
          data: ohlc.map(([o, h, l, c]) => [o, c, l, h]),
          itemStyle: {
            color: "#c0c0c0",
            color0: "#ff0000",
            borderColor: "#2a2a2a",
            borderColor0: "#2a2a2a",
            borderWidth: 1,
          },
        },
        line(novMinus3, "#3a3a3a", 1, [1, 2]),
        line(novPlus3, "#3a3a3a", 1, [1, 2]),
        line(novCenter, "#333333", 2, [2, 3]),
        line(novMinus2, "#25324c", 3, "solid"),
        line(novPlus2, "#25324c", 3, "solid"),
        line(mayUpper, "#0c3f7e", 3, "solid"),
        line(mayLower, "#0c3f7e", 3, "solid"),
        line(mayCenter, "#7c2a7e", 3, "solid"),
        line(
          [
            [lastIdx, lastClose],
            [magentaEnd, lastClose],
          ],
          "#ff00ff",
          1,
          "solid",
          5
        ),
        {
          type: "scatter",
          xAxisIndex: 0,
          yAxisIndex: 0,
          data: swingHighs,
          symbolSize: 1,
          silent: true,
          z: 6,
          itemStyle: { color: "rgba(0,0,0,0)" },
          label: {
            show: true,
            position: "top",
            distance: 2,
            formatter: (p: any) => (p.value[1] as number).toFixed(2),
            color: "#33425e",
            fontWeight: "bold",
            fontSize: 12.5,
            fontFamily: FONT,
          },
        },
        {
          type: "scatter",
          xAxisIndex: 0,
          yAxisIndex: 0,
          data: swingLows,
          symbolSize: 1,
          silent: true,
          z: 6,
          itemStyle: { color: "rgba(0,0,0,0)" },
          label: {
            show: true,
            position: "bottom",
            distance: 3,
            formatter: (p: any) => (p.value[1] as number).toFixed(2),
            color: "#880000",
            fontWeight: "bold",
            fontSize: 12.5,
            fontFamily: FONT,
          },
        },
      ],
    };

    chart.setOption(option);

    // last-value markers on the price axis
    const markers: [number, string][] = [
      [mayUpper[mayUpper.length - 1][1], "#073e7c"],
      [mayCenter[mayCenter.length - 1][1], "#7e1f7e"],
      [mayLower[mayLower.length - 1][1], "#073e7c"],
      [lastClose, "#ff00ff"],
    ];
    const axisX = W - GRID.right;
    const graphics: any[] = [
      { type: "rect", shape: { x: 0, y: 0, width: W, height: 1.2 }, style: { fill: "#6e6e6e" }, z: 10 },
      {
        type: "text",
        x: 4,
        y: 2.5,
        z: 10,
        style: {
          text: `{n|${headerText.symbol}  ${headerText.period}   ${headerText.info} }{r|${headerText.change}}{n|   ${headerText.vbp}}`,
          rich: {
            n: { fontSize: 8, fontFamily: FONT, fill: "#3c3c3c" },
            r: { fontSize: 8, fontFamily: FONT, fill: "#ff0000" },
          },
        },
      },
      {
        type: "rect",
        shape: { x: W - 16, y: 977, width: 14, height: 9 },
        style: { fill: "#22c422" },
        z: 10,
      },
      {
        type: "text",
        x: W - 9,
        y: 981.5,
        z: 11,
        style: { text: "4 L", fontSize: 7, fontFamily: FONT, fill: "#ffffff", align: "center", verticalAlign: "middle" },
      },
    ];
    markers.forEach(([v, color]) => {
      const y = chart.convertToPixel({ yAxisIndex: 0 }, v) as number;
      graphics.push({
        type: "rect",
        shape: { x: axisX + 3, y: y - 5.5, width: 30, height: 11 },
        style: { fill: color },
        z: 10,
      });
      graphics.push({
        type: "text",
        x: axisX + 18,
        y,
        z: 11,
        style: {
          text: v.toFixed(2),
          fontSize: 8.5,
          fontFamily: FONT,
          fill: "#ffffff",
          align: "center",
          verticalAlign: "middle",
        },
      });
    });
    chart.setOption({ graphic: graphics });

    return () => chart.dispose();
  }, []);

  return <div ref={ref} style={{ width: W, height: H }} />;
}
